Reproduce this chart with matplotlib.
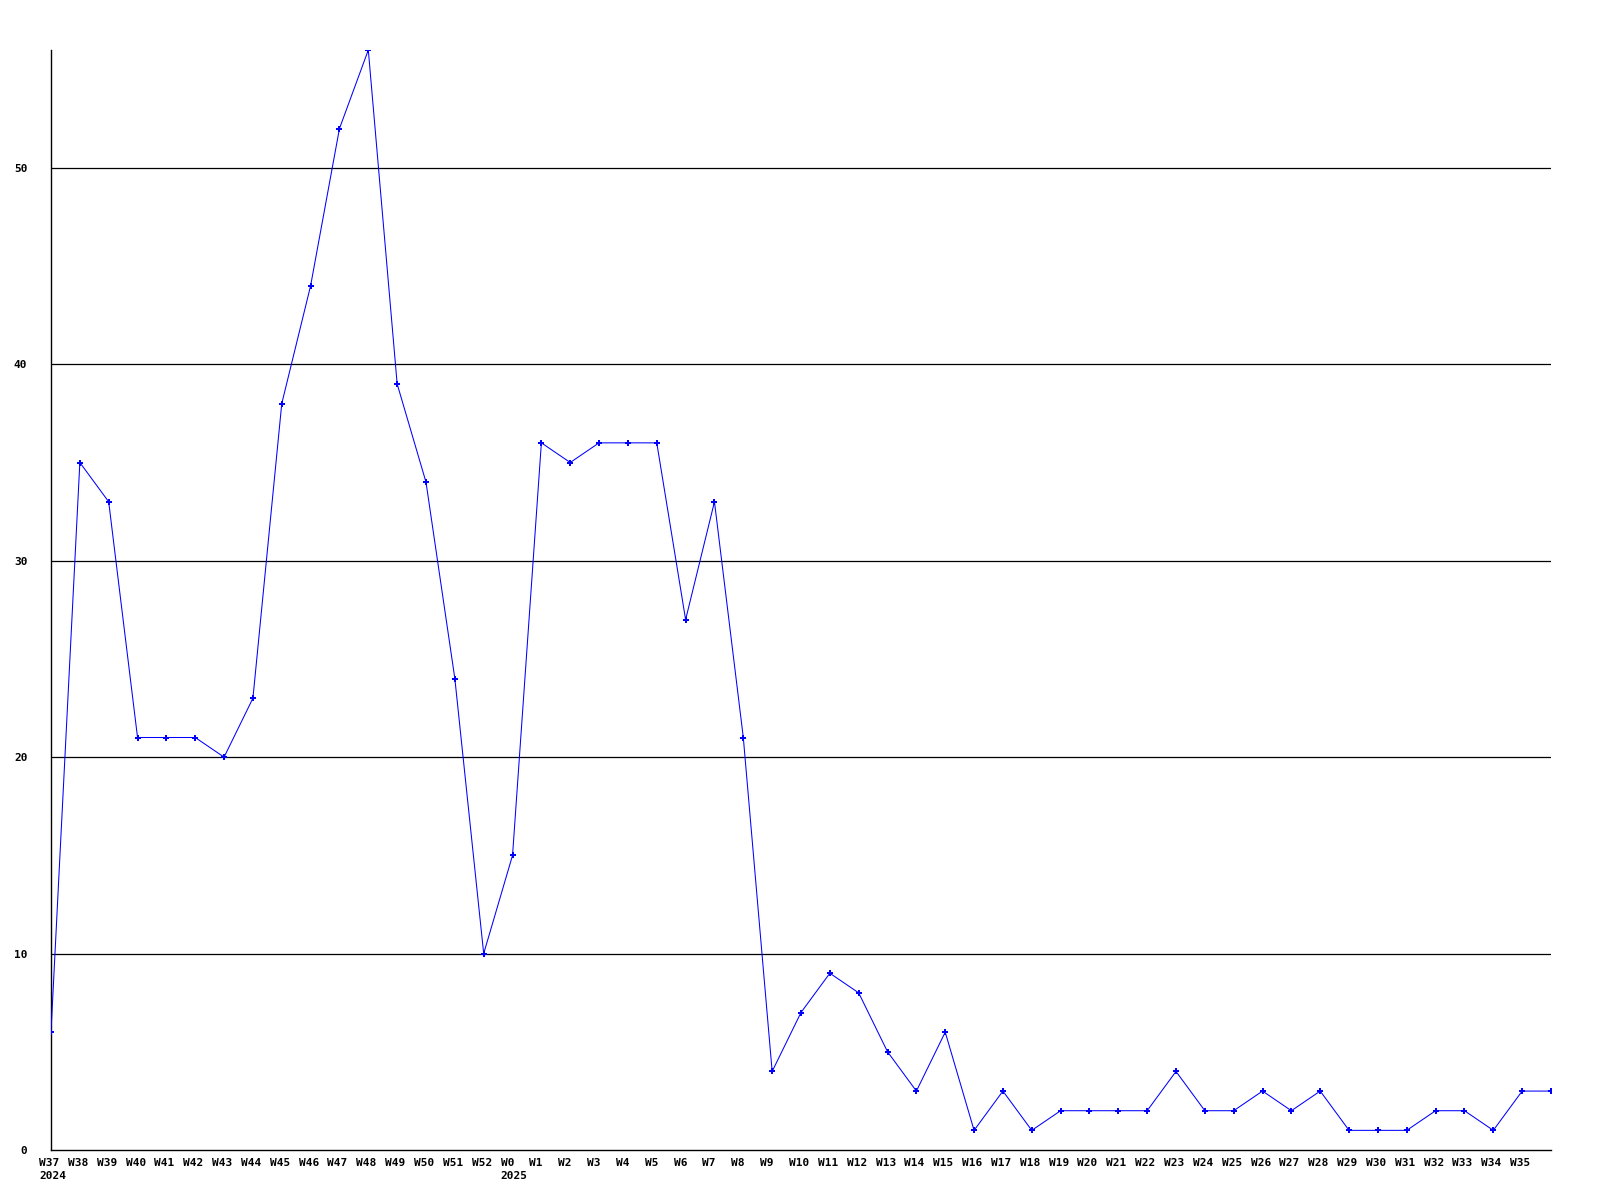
import matplotlib
matplotlib.use("Agg")
import matplotlib.pyplot as plt
import matplotlib.transforms as mtrans

# weeks from W37/2024 to W36/2025
tuan = ["W37", "W38", "W39", "W40", "W41", "W42", "W43", "W44", "W45", "W46",
        "W47", "W48", "W49", "W50", "W51", "W52", "W0", "W1", "W2", "W3",
        "W4", "W5", "W6", "W7", "W8", "W9", "W10", "W11", "W12", "W13",
        "W14", "W15", "W16", "W17", "W18", "W19", "W20", "W21", "W22", "W23",
        "W24", "W25", "W26", "W27", "W28", "W29", "W30", "W31", "W32", "W33",
        "W34", "W35", "W36"]
gia_tri = [6, 35, 33, 21, 21, 21, 20, 23, 38, 44,
           52, 56, 39, 34, 24, 10, 15, 36, 35, 36,
           36, 36, 27, 33, 21, 4, 7, 9, 8, 5,
           3, 6, 1, 3, 1, 2, 2, 2, 2, 4,
           2, 2, 3, 2, 3, 1, 1, 1, 2, 2,
           1, 3, 3]
nam = {"W37": "2024", "W0": "2025"}
moc_y = [0, 10, 20, 30, 40, 50]

font = {"family": "DejaVu Sans Mono", "weight": "bold", "size": 8}

fig = plt.figure(figsize=(16, 12), dpi=100)
ax = fig.add_axes([51 / 1600, 50 / 1200, 1500 / 1600, 1100 / 1200])

x = list(range(len(tuan)))
ax.plot(x, gia_tri, color="#0000ff", linewidth=0.75, marker="P",
        markersize=4, markeredgewidth=0, zorder=3)

# luoi ngang mau den
for v in moc_y[1:]:
    ax.axhline(v, color="black", linewidth=0.9, zorder=1)

ax.set_xlim(0, len(tuan) - 1)
ax.set_ylim(0, 56)

for s in ["top", "right"]:
    ax.spines[s].set_visible(False)
for s in ["left", "bottom"]:
    ax.spines[s].set_color("black")
    ax.spines[s].set_linewidth(1.0)

ax.set_yticks(moc_y)
ax.set_yticklabels([str(v) for v in moc_y], fontdict=font)
ax.tick_params(axis="y", length=0, pad=17)

# nhan truc x (bo W36 o mep phai)
nhan = []
for t in tuan[:-1]:
    nhan.append(t + "\n" + nam[t] if t in nam else t)
ax.set_xticks(x[:-1])
ax.set_xticklabels(nhan, fontdict=font, ha="left", multialignment="left",
                   linespacing=1.3)
ax.tick_params(axis="x", length=0, pad=6)
lech = mtrans.ScaledTranslation(-12 / 100, 0, fig.dpi_scale_trans)
for lb in ax.get_xticklabels():
    lb.set_transform(lb.get_transform() + lech)

fig.savefig("out.png", dpi=100)
